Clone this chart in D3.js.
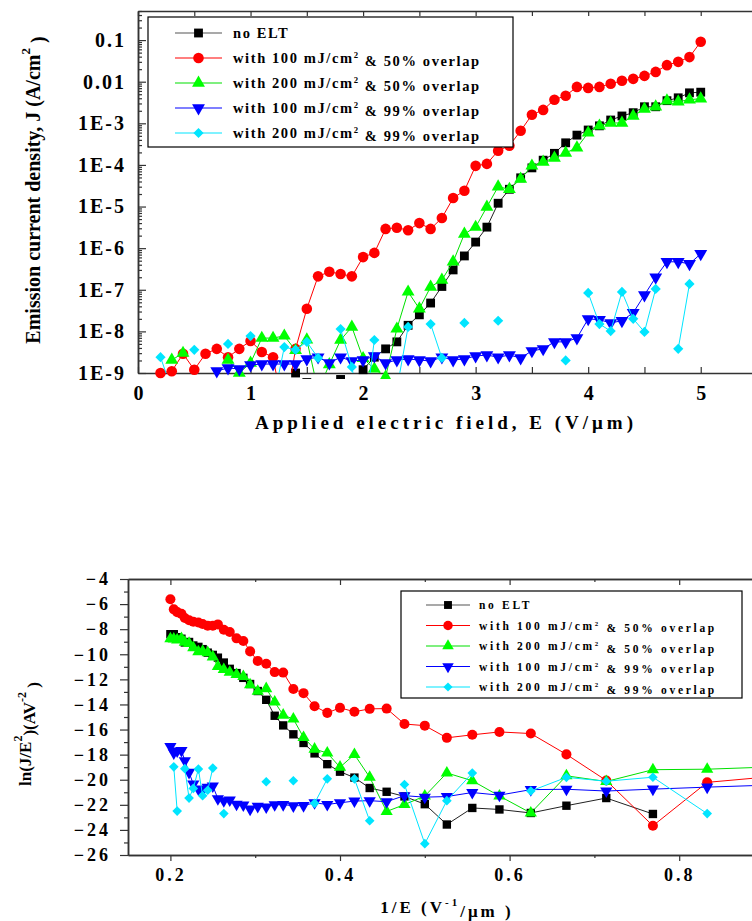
<!DOCTYPE html>
<meta charset="utf-8">
<style>
  body { margin: 0; background: #fff; }
  svg text { font-family: 'Liberation Serif', 'Times New Roman', serif; font-weight: bold; fill: #000; }
</style>
<body>
<div id="chart"></div>
<script src="https://d3js.org/d3.v7.min.js"></script>
<script>

// ---- data ----

// applied field E (V/um) for the J-E plot
var fieldE = [0.2, 0.3, 0.4, 0.5, 0.6, 0.7, 0.8, 0.9, 1.0, 1.1, 1.2, 1.3, 1.4, 1.5, 1.6, 1.7, 1.8, 1.9, 2.0,
  2.1, 2.2, 2.3, 2.4, 2.5, 2.6, 2.7, 2.8, 2.9, 3.0, 3.1, 3.2, 3.3, 3.4, 3.5, 3.6, 3.7, 3.8, 3.9, 4.0,
  4.1, 4.2, 4.3, 4.4, 4.5, 4.6, 4.7, 4.8, 4.9, 5.0];

// current density J (A/cm2), null = no point
var jNoElt = [null, null, null, null, null, null, null, null, null, null, null,
  2.3e-10, 1.0e-9, 5.9e-10, 3.7e-10, 5.6e-10, 7.0e-10, 2.1e-10, 1.2e-9,
  2.4e-9, 3.8e-9, 5.6e-9, 1.4e-8, 2.5e-8, 4.8e-8, 1.2e-7, 3.0e-7, 6.5e-7, 1.4e-6,
  3.2e-6, 1.2e-5, 2.6e-5, 4.9e-5, 8.5e-5, 1.3e-4, 1.9e-4, 3.4e-4, 5.2e-4, 6.9e-4,
  8.7e-4, 1.2e-3, 1.5e-3, 1.8e-3, 2.5e-3, 2.5e-3, 3.5e-3, 4.1e-3, 5.4e-3, 5.6e-3];
var j100x50 = [1.0e-9, 1.1e-9, 2.9e-9, 1.2e-9, 2.9e-9, 3.8e-9, 2.4e-9, 3.8e-9, 5.9e-9, 3.2e-9, 2.4e-9,
  9e-11, 3.8e-9, 3.5e-8, 2.1e-7, 2.7e-7, 2.4e-7, 2.1e-7, 6.1e-7,
  7.7e-7, 2.9e-6, 3.1e-6, 2.7e-6, 4.0e-6, 2.9e-6, 5.3e-6, 1.6e-5, 2.4e-5, 9.5e-5,
  1.06e-4, 2.2e-4, 2.9e-4, 6.6e-4, 1.6e-3, 2.1e-3, 3.7e-3, 4.6e-3, 7.5e-3, 7.1e-3,
  7.5e-3, 8.9e-3, 1.05e-2, 1.17e-2, 1.38e-2, 1.72e-2, 2.5e-2, 3.0e-2, 3.9e-2, 9.1e-2];
var j200x50 = [null, 2.05e-9, 3.0e-9, null, null, null, 2.05e-9, 1.0e-9, 1.74e-9, 6.9e-9, 6.9e-9,
  7.8e-9, 3.5e-9, 6.3e-9, 3.7e-10, 1.6e-9, 6.2e-9, 1.28e-8, 2.25e-9,
  1.26e-9, 8e-10, 1.15e-8, 8.9e-8, 3.5e-8, 1.17e-7, 1.72e-7, 4.7e-7, 2.2e-6, 3.2e-6,
  9.8e-6, 3.0e-5, 2.6e-5, 4.6e-5, 9.5e-5, 1.18e-4, 1.47e-4, 1.94e-4, 2.6e-4, 5.9e-4,
  8.7e-4, 1.02e-3, 1.02e-3, 1.5e-3, 2.2e-3, 2.5e-3, 3.5e-3, 3.3e-3, 3.7e-3, 3.9e-3];
var j100x99 = [null, null, null, null, null, 1.12e-9, 1.32e-9, 1.25e-9, 1.56e-9, 1.64e-9, 1.64e-9,
  1.64e-9, 1.64e-9, 2.17e-9, 2.4e-9, 1.74e-9, 2.4e-9, 1.94e-9, 2.05e-9,
  2.56e-9, 1.74e-9, 2.05e-9, 2.17e-9, 2.05e-9, 1.94e-9, 2.4e-9, 2.05e-9, 2.17e-9, 2.56e-9,
  2.7e-9, 2.4e-9, 2.7e-9, 2.3e-9, 3.4e-9, 3.8e-9, 5.6e-9, 5.6e-9, 6.9e-9, 2.0e-8,
  1.9e-8, 1.6e-8, 1.8e-8, 2.8e-8, 7.5e-8, 2.0e-7, 4.7e-7, 4.7e-7, 4.2e-7, 7.3e-7];
var j200x99 = [2.4e-9, 4e-10, null, 3.6e-9, null, null, 5.0e-9, null, 7.7e-9, null, 2e-10,
  4.2e-9, 3.6e-9, 5.6e-9, 2.3e-9, null, 1.14e-8, 1.4e-9, 5e-11,
  6.2e-9, null, 4.1e-10, 1.28e-8, null, 1.5e-8, 2.3e-9, null, 1.6e-8, null,
  null, 1.8e-8, null, null, null, null, null, 2.0e-9, null, 8.4e-8,
  1.5e-8, 1.02e-8, 8.9e-8, 2.0e-8, 9.7e-9, 1.05e-7, null, 3.8e-9, 1.38e-7, null];

// 1/E (um/V) for the Fowler-Nordheim plot (E = 5.0 down to 1.1)
var invE = [0.2, 0.204, 0.208, 0.213, 0.217, 0.222, 0.227, 0.233, 0.238, 0.244, 0.25, 0.256, 0.263,
  0.27, 0.278, 0.286, 0.294, 0.303, 0.313, 0.323, 0.333, 0.345, 0.357, 0.37, 0.385, 0.4, 0.417,
  0.435, 0.455, 0.476, 0.5, 0.526, 0.556, 0.588, 0.625, 0.667, 0.714, 0.769, 0.833, 0.909];

// ln(J/E^2)
var fnNoElt = [-8.40, -8.40, -8.64, -8.76, -9.06, -9.02, -9.30, -9.41, -9.59, -9.87, -10.05, -10.27, -10.66,
  -11.16, -11.50, -11.88, -12.37, -12.93, -13.63, -14.90, -15.67, -16.38, -17.07, -17.90, -18.76, -19.36, -19.83,
  -20.66, -20.96, -21.33, -21.95, -23.57, -22.25, -22.37, -22.65, -22.07, -21.46, -22.73, null, null];
var fn100x50 = [-5.62, -6.42, -6.64, -6.78, -7.11, -7.29, -7.41, -7.47, -7.59, -7.72, -7.72, -7.62, -8.05,
  -8.22, -8.73, -8.94, -9.77, -10.53, -10.75, -11.42, -11.46, -12.77, -13.10, -14.14, -14.67, -14.27, -14.58,
  -14.35, -14.33, -15.56, -15.69, -16.66, -16.42, -16.19, -16.32, -17.98, -20.06, -23.67, -20.21, -19.75];
var fn200x50 = [-8.77, -8.78, -8.85, -8.75, -9.04, -9.13, -9.47, -9.80, -9.76, -9.87, -10.21, -10.98, -11.22,
  -11.44, -11.61, -11.77, -12.43, -12.95, -12.74, -13.80, -14.85, -15.16, -16.63, -17.56, -17.87, -19.00, -17.99,
  -19.80, -22.53, -21.98, -21.30, -19.46, -20.08, -21.30, -22.65, -19.69, -20.14, -19.20, -19.16, -18.98];
var fn100x99 = [-17.35, -17.86, -17.71, -17.67, -18.48, -19.41, -20.35, -20.75, -20.82, -20.60, -20.50, -21.51, -21.67,
  -21.62, -21.95, -22.01, -22.34, -22.12, -22.17, -21.99, -21.98, -22.08, -22.06, -21.84, -21.97, -21.84, -21.70,
  -21.67, -21.75, -21.27, -21.39, -21.34, -21.02, -21.23, -20.79, -20.76, -20.90, -20.75, -20.59, -20.42];
var fn200x99 = [null, -18.97, -22.5, null, -19.12, -21.46, -20.69, -19.15, -21.27, -20.84, -19.07, null, -22.7,
  null, null, null, null, null, -20.16, null, null, -20.08, null, -21.88, -19.93, null, -19.93,
  -23.27, null, -20.38, -25.1, -21.67, -19.47, null, -20.9, -19.81, -20.12, -19.8, -22.7, null];

// legend text, split where the superscript 2 goes
var legendLabels = [["no ELT"],
  ["with 100 mJ/cm", " & 50% overlap"],
  ["with 200 mJ/cm", " & 50% overlap"],
  ["with 100 mJ/cm", " & 99% overlap"],
  ["with 200 mJ/cm", " & 99% overlap"]];

var topTickLabels = ["1E-9", "1E-8", "1E-7", "1E-6", "1E-5", "1E-4", "1E-3", "0.01", "0.1"];

var seriesColors = ["#000000", "#ff0000", "#00ff00", "#0000ff", "#00e5ff"];
var lineColors = ["#222222", "#ff0000", "#00e000", "#0000ff", "#00e5ff"];
var shapes = ["square", "circle", "triangle", "triangleDown", "diamond"];

var jSeries = [jNoElt, j100x50, j200x50, j100x99, j200x99];
var fnSeries = [fnNoElt, fn100x50, fn200x50, fn100x99, fn200x99];

// ---- drawing ----

var svg = d3.select("#chart").append("svg")
  .attr("width", 752)
  .attr("height", 921);

svg.append("rect").attr("width", 752).attr("height", 921).attr("fill", "#fff");

function symbolPath(shape, scale) {
  var s = scale || 1;
  if (shape == "square") return d3.symbol(d3.symbolSquare, 78 * s)();
  if (shape == "circle") return d3.symbol(d3.symbolCircle, 88 * s)();
  if (shape == "triangle" || shape == "triangleDown") return d3.symbol(d3.symbolTriangle, 72 * s)();
  return d3.symbol(d3.symbolSquare, 52 * s)();
}
function symbolRotate(shape) {
  if (shape == "triangleDown") return " rotate(180)";
  if (shape == "diamond") return " rotate(45)";
  return "";
}

function drawSeries(g, xs, ys, xScale, yScale, i, lineClip, markClip, scale) {
  var pts = xs.map(function(x, k) { return {x: x, y: ys[k]}; });
  var line = d3.line()
    .defined(function(d) { return d.y !== null; })
    .x(function(d) { return xScale(d.x); })
    .y(function(d) { return yScale(d.y); });
  g.append("path")
    .datum(pts)
    .attr("clip-path", "url(#" + lineClip + ")")
    .attr("fill", "none")
    .attr("stroke", lineColors[i])
    .attr("stroke-width", 1)
    .attr("d", line);
  g.append("g")
    .attr("clip-path", "url(#" + markClip + ")")
    .selectAll("path")
    .data(pts.filter(function(d) { return d.y !== null; }))
    .enter()
    .append("path")
      .attr("d", symbolPath(shapes[i], scale))
      .attr("transform", function(d) {
        return "translate(" + xScale(d.x) + "," + yScale(d.y) + ")" + symbolRotate(shapes[i]);
      })
      .attr("fill", seriesColors[i]);
}

function styleAxis(g, size, spacing) {
  g.select(".domain").attr("stroke", "#333").attr("stroke-width", 1.5);
  g.selectAll(".tick line").attr("stroke", "#333").attr("stroke-width", 1.2);
  g.selectAll(".tick text")
    .style("font-family", "'Liberation Serif', 'Times New Roman', serif")
    .style("font-weight", "bold")
    .style("font-size", size + "px")
    .style("letter-spacing", spacing + "px")
    .attr("fill", "#000");
}

var defs = svg.append("defs");
defs.append("clipPath").attr("id", "topLine").append("rect")
  .attr("x", 138).attr("y", 11).attr("width", 620).attr("height", 362);
defs.append("clipPath").attr("id", "topMark").append("rect")
  .attr("x", 130).attr("y", 11).attr("width", 630).attr("height", 368);
defs.append("clipPath").attr("id", "botLine").append("rect")
  .attr("x", 128).attr("y", 579).attr("width", 640).attr("height", 276);

// ===== top chart: J vs E =====
var xTop = d3.scaleLinear().domain([0, 5.5]).range([138, 757]);
var yTop = d3.scaleLog().domain([1e-9, 0.5]).range([373, 11]);

var decades = [1e-9, 1e-8, 1e-7, 1e-6, 1e-5, 1e-4, 1e-3, 1e-2, 1e-1];
var minorY = [];
decades.forEach(function(d) {
  for (var k = 2; k <= 9; k++) if (d * k <= 0.5) minorY.push(d * k);
});

var gTop = svg.append("g");
gTop.append("g")
  .attr("transform", "translate(138,0)")
  .call(d3.axisLeft(yTop).tickValues(minorY).tickSize(-4).tickSizeOuter(0).tickFormat(""))
  .call(styleAxis, 20, 2);
gTop.append("g")
  .attr("transform", "translate(138,0)")
  .call(d3.axisLeft(yTop).tickValues(decades).tickSize(-8).tickSizeOuter(0).tickPadding(12)
    .tickFormat(function(d, i) { return topTickLabels[i]; }))
  .call(styleAxis, 20, 2);
gTop.append("g")
  .attr("transform", "translate(0,373)")
  .call(d3.axisBottom(xTop).tickValues(d3.range(0, 5.51, 0.5)).tickSize(-6).tickSizeOuter(0).tickPadding(13)
    .tickFormat(function(d) { return Number.isInteger(d) ? d : ""; }))
  .call(styleAxis, 20, 0);
gTop.append("g")
  .attr("transform", "translate(0,11)")
  .call(d3.axisTop(xTop).tickValues(d3.range(0, 5.51, 0.5)).tickSize(-5).tickSizeOuter(0).tickFormat(""))
  .call(styleAxis, 20, 0);

jSeries.forEach(function(ys, i) {
  drawSeries(gTop, fieldE, ys, xTop, yTop, i, "topLine", "topMark", 1);
});

gTop.append("text")
  .attr("transform", "translate(40,190) rotate(-90)")
  .attr("text-anchor", "middle")
  .style("font-size", "20px")
  .call(function(t) {
    t.append("tspan").text("Emission current density, J (A/cm");
    t.append("tspan").attr("dy", "-0.75em").style("font-size", "13px").text("2");
    t.append("tspan").attr("dy", "0.75em").text("  )");
  });
gTop.append("text")
  .attr("x", 446).attr("y", 429)
  .attr("text-anchor", "middle")
  .style("font-size", "19px")
  .style("letter-spacing", "4px")
  .text("Applied electric field, E (V/\u03bcm)");

// legend
function drawLegend(g, box, rowY, rowStep, x1, x2, textX, fontSize, spacing, scale) {
  g.append("rect")
    .attr("x", box[0]).attr("y", box[1]).attr("width", box[2]).attr("height", box[3])
    .attr("fill", "#fff").attr("stroke", "#000").attr("stroke-width", 1.2);
  legendLabels.forEach(function(lab, i) {
    var y = rowY + i * rowStep;
    g.append("line")
      .attr("x1", x1).attr("x2", x2).attr("y1", y).attr("y2", y)
      .attr("stroke", i == 0 ? "#555" : lineColors[i]).attr("stroke-width", 1.2);
    g.append("path")
      .attr("d", symbolPath(shapes[i], scale))
      .attr("transform", "translate(" + (x1 + x2) / 2 + "," + y + ")" + symbolRotate(shapes[i]))
      .attr("fill", seriesColors[i]);
    var t = g.append("text")
      .attr("x", textX).attr("y", y).attr("dy", "0.35em")
      .style("font-size", fontSize + "px")
      .style("letter-spacing", spacing + "px");
    t.append("tspan").text(lab[0]);
    if (lab.length > 1) {
      t.append("tspan").attr("dy", "-0.55em").style("font-size", (fontSize * 0.6) + "px").text("2");
      t.append("tspan").attr("dy", "0.55em").text(lab[1]);
    }
  });
}
drawLegend(gTop, [148, 17, 365, 130], 33, 25, 175, 222, 233, 14.5, 1.6, 1);

// ===== bottom chart: ln(J/E^2) vs 1/E =====
var xBot = d3.scaleLinear().domain([0.15, 0.9]).range([128, 764]);
var yBot = d3.scaleLinear().domain([-26, -4]).range([855, 579]);

var gBot = svg.append("g");
gBot.append("g")
  .attr("transform", "translate(128,0)")
  .call(d3.axisLeft(yBot).tickValues(d3.range(-25, -4, 2)).tickSize(4).tickSizeOuter(0).tickFormat(""))
  .call(styleAxis, 18, 3);
gBot.append("g")
  .attr("transform", "translate(128,0)")
  .call(d3.axisLeft(yBot).tickValues(d3.range(-26, -3, 2)).tickSize(8).tickSizeOuter(0).tickPadding(9))
  .call(styleAxis, 18, 3);
gBot.append("g")
  .attr("transform", "translate(0,855)")
  .call(d3.axisBottom(xBot).tickValues([0.3, 0.5, 0.7]).tickSize(3).tickSizeOuter(0).tickFormat(""))
  .call(styleAxis, 18, 3);
gBot.append("g")
  .attr("transform", "translate(0,855)")
  .call(d3.axisBottom(xBot).tickValues([0.2, 0.4, 0.6, 0.8]).tickSize(6).tickSizeOuter(0).tickPadding(7)
    .tickFormat(d3.format(".1f")))
  .call(styleAxis, 18, 3);
gBot.append("g")
  .attr("transform", "translate(0,579)")
  .call(d3.axisTop(xBot).tickValues([0.3, 0.5, 0.7]).tickSize(-3).tickSizeOuter(0).tickFormat(""))
  .call(styleAxis, 18, 3);
gBot.append("g")
  .attr("transform", "translate(0,579)")
  .call(d3.axisTop(xBot).tickValues([0.2, 0.4, 0.6, 0.8]).tickSize(-6).tickSizeOuter(0).tickFormat(""))
  .call(styleAxis, 18, 3);

fnSeries.forEach(function(ys, i) {
  drawSeries(gBot, invE, ys, xBot, yBot, i, "botLine", "botLine", 0.9);
});

drawLegend(gBot, [401, 591, 341, 107], 605, 20.5, 426, 470, 479, 11.5, 2.7, 0.8);

gBot.append("text")
  .attr("transform", "translate(31,734) rotate(-90)")
  .attr("text-anchor", "middle")
  .style("font-size", "17px")
  .call(function(t) {
    t.append("tspan").text("ln(J/E");
    t.append("tspan").attr("dy", "-0.75em").style("font-size", "12px").text("2");
    t.append("tspan").attr("dy", "0.75em").text(")(AV");
    t.append("tspan").attr("dy", "-0.75em").style("font-size", "12px").text("-2");
    t.append("tspan").attr("dy", "0.75em").text(" )");
  });
gBot.append("text")
  .attr("x", 447).attr("y", 913)
  .attr("text-anchor", "middle")
  .style("font-size", "17px")
  .style("letter-spacing", "3px")
  .call(function(t) {
    t.append("tspan").text("1/E  (V");
    t.append("tspan").attr("dy", "-0.6em").style("font-size", "11px").text("-1");
    t.append("tspan").attr("dy", "0.6em").text("/\u03bcm )");
  });

</script>
</body>
